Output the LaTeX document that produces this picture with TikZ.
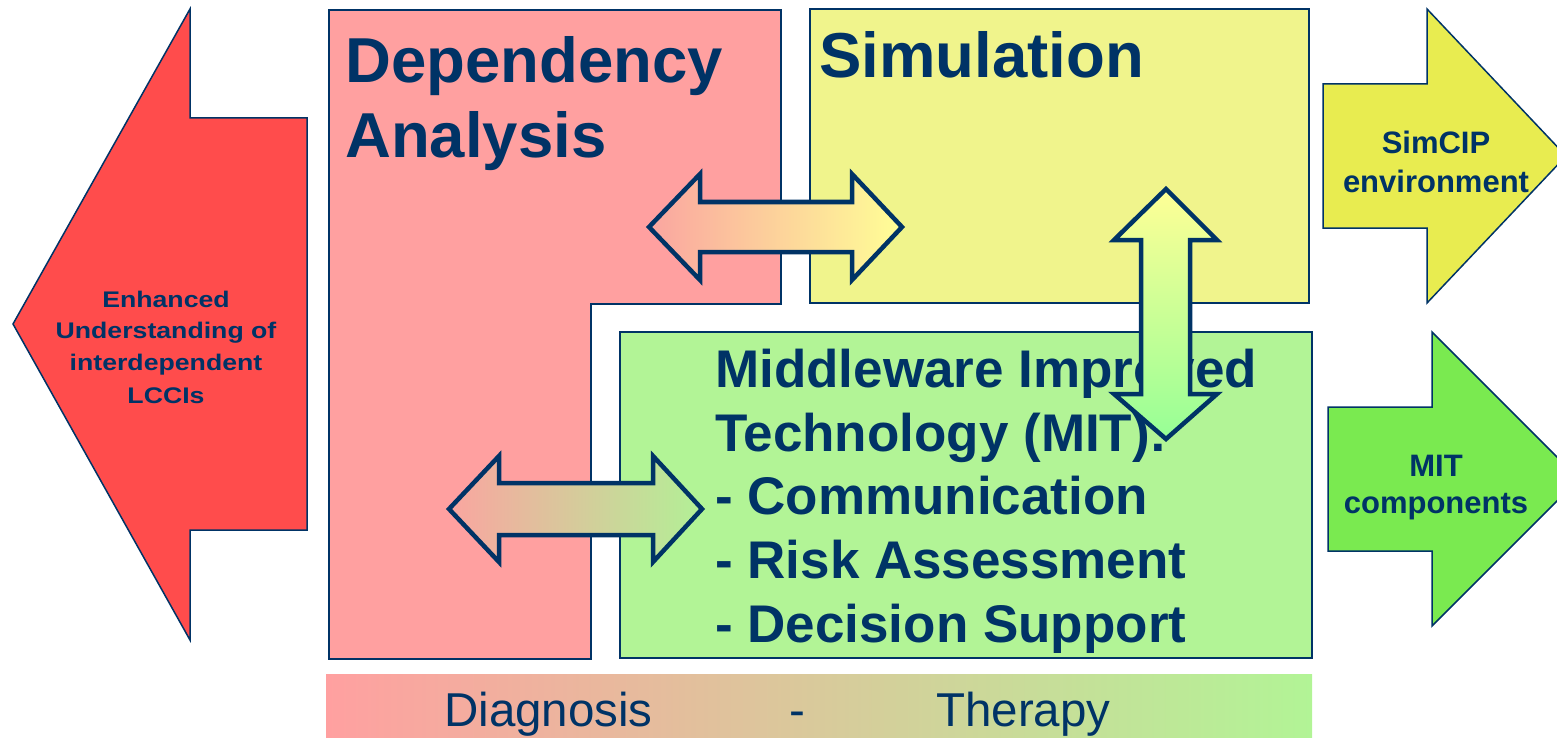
\documentclass[tikz,border=0pt]{standalone}
\usepackage{fontspec}
\setmainfont{Liberation Sans}
\newfontfamily\widefont{Liberation Sans}[FakeStretch=1.18]
\definecolor{navy}{RGB}{0,51,102}
\definecolor{redfill}{RGB}{255,76,76}
\definecolor{pinkfill}{RGB}{255,160,160}
\definecolor{yellowfill}{RGB}{240,244,140}
\definecolor{greenfill}{RGB}{178,244,150}
\definecolor{simfill}{RGB}{232,236,80}
\definecolor{mitfill}{RGB}{122,234,80}
\definecolor{gpink}{RGB}{250,165,160}
\definecolor{gorange}{RGB}{253,215,150}
\definecolor{gyellow}{RGB}{255,255,150}
\definecolor{ggreen}{RGB}{150,255,150}
\definecolor{gtan}{RGB}{225,208,160}
\definecolor{glgreen}{RGB}{178,240,150}
\definecolor{bartan}{RGB}{226,203,160}
\tikzset{
  thinbox/.style={draw=navy, line width=1.5pt},
  dblarrow/.style={draw=navy, line width=4.5pt, line join=miter},
  title/.style={font=\fontsize{63.5}{75}\selectfont\bfseries, text=navy, inner sep=0pt, anchor=base west},
  mitline/.style={font=\fontsize{53}{64}\selectfont\bfseries, text=navy, inner sep=0pt, anchor=base west},
  sidelabel/.style={font=\fontsize{31}{38}\selectfont\bfseries, text=navy, inner sep=0pt, anchor=base},
  redlabel/.style={font=\widefont\fontsize{22.6}{32}\selectfont\bfseries, text=navy, inner sep=0pt, anchor=base},
  barlabel/.style={font=\fontsize{47.5}{56}\selectfont, text=navy, inner sep=0pt, anchor=base west}
}
\begin{document}
\begin{tikzpicture}[x=1pt, y=-1pt]
\useasboundingbox (0,0) rectangle (1557,738);
% red left arrow
\draw[thinbox, fill=redfill] (13,324) -- (190,9) -- (190,118) -- (307,118) -- (307,530) -- (190,530) -- (190,640) -- cycle;
\node[redlabel] (e1) at (166,307) {Enhanced};
\node[redlabel] (e2) at (166,338) {Understanding of};
\node[redlabel] (e3) at (166,370) {interdependent};
\node[redlabel] (e4) at (166,403) {LCCIs};
% pink dependency box
\draw[thinbox, fill=pinkfill] (329,10) -- (781,10) -- (781,304) -- (591,304) -- (591,659) -- (329,659) -- cycle;
\node[title] (dep1) at (345,83) {Dependency};
\node[title] (dep2) at (345,158) {Analysis};
% yellow simulation box
\draw[thinbox, fill=yellowfill] (810,9) rectangle (1309,303);
\node[title] (sim) at (819,78) {Simulation};
% top double arrow
\draw[dblarrow, left color=gpink, middle color=gorange, right color=gyellow]
  (649,227) -- (700,174) -- (700,202) -- (852,202) -- (852,174) -- (902,227) -- (852,280) -- (852,252) -- (700,252) -- (700,280) -- cycle;
% green MIT box
\draw[thinbox, fill=greenfill] (620,332) rectangle (1312,658);
\node[mitline] (m1) at (715,387) {Middleware Improved};
\node[mitline] (m2) at (715,451) {Technology (MIT):};
\node[mitline] (m3) at (715,514) {- Communication};
\node[mitline] (m4) at (715,578) {- Risk Assessment};
\node[mitline] (m5) at (715,642) {- Decision Support};
% vertical double arrow
\draw[dblarrow, top color=gyellow, bottom color=ggreen]
  (1166,189) -- (1217,240) -- (1190,240) -- (1190,394) -- (1217,394) -- (1166,439) -- (1114,394) -- (1141,394) -- (1141,240) -- (1114,240) -- cycle;
% bottom double arrow
\draw[dblarrow, left color=gpink, middle color=gtan, right color=glgreen]
  (449,509) -- (499,456) -- (499,483) -- (653,483) -- (653,456) -- (702,509) -- (653,562) -- (653,535) -- (499,535) -- (499,562) -- cycle;
% right arrows
\draw[thinbox, fill=simfill] (1323,84) -- (1427,84) -- (1427,9) -- (1566,156) -- (1427,303) -- (1427,228) -- (1323,228) -- cycle;
\node[sidelabel] (s1) at (1436,154) {SimCIP};
\node[sidelabel] (s2) at (1436,193) {environment};
\draw[thinbox, fill=mitfill] (1328,407) -- (1432,407) -- (1432,332) -- (1579,479) -- (1432,626) -- (1432,551) -- (1328,551) -- cycle;
\node[sidelabel] (c1) at (1436,476) {MIT};
\node[sidelabel] (c2) at (1436,513) {components};
% bottom bar
\shade[left color=pinkfill, middle color=bartan, right color=greenfill] (326,674) rectangle (1312,740);
\node[barlabel] (diag) at (444,726) {Diagnosis};
\node[barlabel] (dash) at (789,726) {-};
\node[barlabel] (ther) at (936,726) {Therapy};
\end{tikzpicture}
\end{document}
